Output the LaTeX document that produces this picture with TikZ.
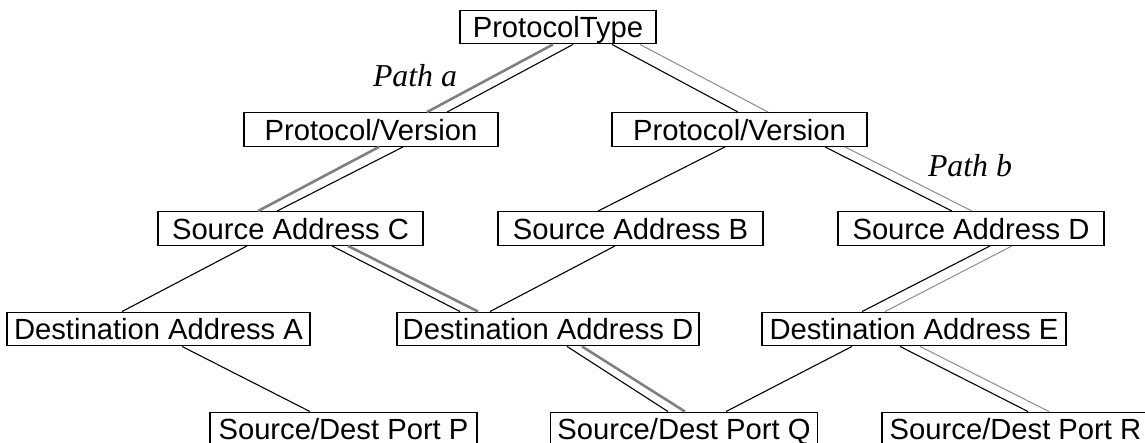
\documentclass[tikz,border=0pt]{standalone}
\usepackage{fontspec}
\setmainfont{Liberation Sans}
\newfontfamily\pathfont{Liberation Serif}
\tikzset {
        fieldnode/.style={align=center,inner sep=0pt, rectangle, draw, line width=0.7pt, minimum height=16.75pt, text height=13.75pt, text depth=3pt, font=\fontsize{14.6}{17}\selectfont},
        pathlabel/.style={draw=none, inner sep=0pt, minimum width=0pt, minimum height=0pt, text height=, text depth=, anchor=base, font=\pathfont\itshape\fontsize{15.9}{18}\selectfont},
        link/.style={line width=0.55pt},
        pathA/.style={line width=1.3pt, black!50},
        pathB/.style={line width=0.5pt, black!45}
}
\begin{document}
\begin{tikzpicture}[x=0.5pt, y=-0.5pt, every node/.style=fieldnode]
            \useasboundingbox (0,0) rectangle (1145,443);
            \node[minimum width=98pt] (ProtocolType) at (558,27) {ProtocolType};
            \node[minimum width=127pt] (VersionLeft) at (371,129.5) {Protocol/Version};
            \node[minimum width=127.5pt] (VersionRight) at (739.5,129.5) {Protocol/Version};
            \node[minimum width=132.5pt] (SourceAddressC) at (290.5,228.5) {Source Address C};
            \node[minimum width=132.5pt] (SourceAddressB) at (630.5,228.5) {Source Address B};
            \node[minimum width=133pt] (SourceAddressD) at (971,228.5) {Source Address D};
            \node[minimum width=151.5pt] (DestAddressA) at (158.5,329) {Destination Address A};
            \node[minimum width=151pt] (DestAddressD) at (548,329) {Destination Address D};
            \node[minimum width=152pt] (DestAddressE) at (914,329) {Destination Address E};
            \node[minimum width=133.5pt] (PortP) at (343.5,429) {Source/Dest Port P};
            \node[minimum width=133.5pt] (PortQ) at (684,429) {Source/Dest Port Q};
            \node[minimum width=133.5pt] (PortR) at (1015.5,429) {Source/Dest Port R};

            \node[pathlabel] (PathA) at (415,87) {Path a};
            \node[pathlabel] (PathB) at (970,177) {Path b};

            % path a
            \draw[pathA] ([xshift=-2.5pt]ProtocolType.south) -- ([xshift=28pt]VersionLeft.north);
            \draw[pathA] ([xshift=4pt]VersionLeft.south) -- ([xshift=-16.25pt]SourceAddressC.north);
            \draw[pathA] ([xshift=28.75pt]SourceAddressC.south) -- ([xshift=-35pt]DestAddressD.north);
            \draw[pathA] ([xshift=17pt]DestAddressD.south) -- ([xshift=0.5pt]PortQ.north);

            % path b
            \draw[pathB] ([xshift=41pt]ProtocolType.south) -- ([xshift=14.25pt]VersionRight.north);
            \draw[pathB] ([xshift=52.75pt]VersionRight.south) -- ([xshift=0.5pt]SourceAddressD.north);
            \draw[pathB] ([xshift=20.5pt]SourceAddressD.south) -- ([xshift=-14.5pt]DestAddressE.north);
            \draw[pathB] ([xshift=3pt]DestAddressE.south) -- ([xshift=16.75pt]PortR.north);

            % tree links
            \draw[link] ([xshift=7.5pt]ProtocolType.south) -- ([xshift=38pt]VersionLeft.north);
            \draw[link] ([xshift=27pt]ProtocolType.south) -- ([xshift=-0.75pt]VersionRight.north);
            \draw[link] ([xshift=16pt]VersionLeft.south) -- ([xshift=-6.75pt]SourceAddressC.north);
            \draw[link] ([xshift=-7.25pt]VersionRight.south) -- ([xshift=-16.25pt]SourceAddressB.north);
            \draw[link] ([xshift=42.75pt]VersionRight.south) -- ([xshift=-9.5pt]SourceAddressD.north);
            \draw[link] ([xshift=-21.75pt]SourceAddressC.south) -- ([xshift=-18.25pt]DestAddressA.north);
            \draw[link] ([xshift=20.75pt]SourceAddressC.south) -- ([xshift=-44pt]DestAddressD.north);
            \draw[link] ([xshift=-7.75pt]SourceAddressB.south) -- ([xshift=-29pt]DestAddressD.north);
            \draw[link] ([xshift=9.5pt]SourceAddressD.south) -- ([xshift=-26pt]DestAddressE.north);
            \draw[link] ([xshift=11.75pt]DestAddressA.south) -- ([xshift=-16.75pt]PortP.north);
            \draw[link] ([xshift=9.5pt]DestAddressD.south) -- ([xshift=-8pt]PortQ.north);
            \draw[link] ([xshift=-31pt]DestAddressE.south) -- ([xshift=21pt]PortQ.north);
            \draw[link] ([xshift=-7pt]DestAddressE.south) -- ([xshift=6.25pt]PortR.north);
        \end{tikzpicture}
\end{document}
